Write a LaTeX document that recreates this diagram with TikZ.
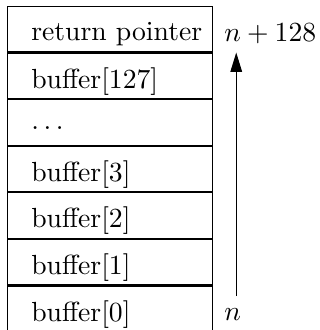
\documentclass[tikz,border=0pt]{standalone}
\usetikzlibrary{positioning,arrows.meta}

\begin{document}
\begin{tikzpicture}[
        node distance=0pt,
        >={Triangle[length=7pt,width=4.2pt]},
        cell/.style={
                rectangle, draw,
                minimum width=73.9pt, minimum height=16.45pt,
                inner sep=0pt
            },
        celltext/.style={anchor=west, inner sep=0pt, xshift=8.5pt, yshift=-1.9pt},
        addr/.style={anchor=base west, inner sep=0pt, xshift=4pt, yshift=-4.3pt},
        ptr/.style={->}
    ]

    % ===== Stack frame (top to bottom) =====
    \node[cell, label={[celltext]west:return pointer}, label={[addr]east:$n+128$}] (ret) {};
    \node[cell, below=of ret, label={[celltext]west:buffer[127]}] (b127) {};
    \node[cell, below=of b127, label={[celltext]west:$\dots$}] (dots) {};
    \node[cell, below=of dots, label={[celltext]west:buffer[3]}] (b3) {};
    \node[cell, below=of b3, label={[celltext]west:buffer[2]}] (b2) {};
    \node[cell, below=of b2, label={[celltext]west:buffer[1]}] (b1) {};
    \node[cell, below=of b1, label={[celltext]west:buffer[0]}, label={[addr]east:$n$}] (b0) {};

    % ===== Address arrow: n -> n+128 =====
    \draw[ptr] ([xshift=8.5pt, yshift=4.6pt]b0.east) -- ([xshift=8.5pt]b127.north east);

    % ===== Page size =====
    \pgfresetboundingbox
    \useasboundingbox ([xshift=-2.6pt, yshift=0.8pt]b0.south west) rectangle ([xshift=38.6pt, yshift=2.15pt]ret.north east);

\end{tikzpicture}
\end{document}
